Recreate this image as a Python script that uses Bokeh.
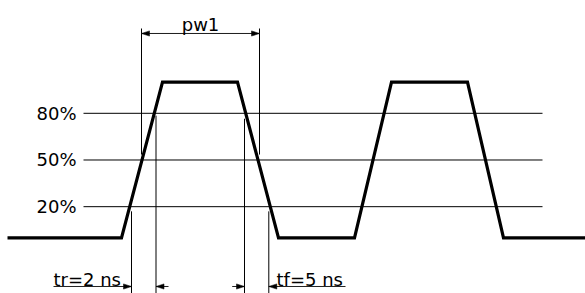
from bokeh.plotting import figure
from bokeh.models import Range1d
from bokeh.core.properties import value
from bokeh.embed import file_html
from bokeh.resources import INLINE

# ---- data (time in arbitrary schematic units, level in % of amplitude) ----
wave_t = [-1, 113, 154, 229, 270, 346, 383, 459, 495, 580]
wave_level = [0, 0, 100, 100, 0, 0, 100, 100, 0, 0]

threshold_levels = [80, 50, 20]
threshold_labels = ["80%", "50%", "20%"]
threshold_t = [75, 534]          # extent of threshold lines
label_t = 68                     # right edge of level labels

pw_t = [133, 251]                # pulse width markers (50% crossings)
pw_top, pw_bottom = 134.5, 53.5
pw_arrow_level = 131.3
pw_label = "pw1"
pw_label_level = 136.8

tr_t = [123, 147.5]              # rise time markers (20% / 80% crossings)
tr_top = [17, 78.5]
tf_t = [236, 260.3]              # fall time markers (80% / 20% crossings)
tf_top = [76.5, 17]
marker_bottom = -40
dim_level = -31.3
tr_label, tf_label = "tr=2 ns", "tf=5 ns"
tr_label_t, tf_label_t = 45, 268
dim_label_level = -27.0
# arrows: (start, tip)
tr_arrows = [(45, 123), (160, 147.5)]
tf_arrows = [(223.7, 236), (337, 260.3)]

W, H = 585, 293
x0, x1 = -8, 577
y0, y1 = -35.8, 152.5

p = figure(width=W, height=H, x_range=Range1d(x0, x1), y_range=Range1d(y0, y1),
           output_backend="svg", toolbar_location=None,
           x_axis_location=None, y_axis_location=None, min_border=0)
p.outline_line_color = None
p.xgrid.visible = False
p.ygrid.visible = False

font = value("DejaVu Sans")
FS = "18px"

# threshold lines
p.segment(x0=[threshold_t[0]] * 3, x1=[threshold_t[1]] * 3,
          y0=threshold_levels, y1=threshold_levels, line_color="black", line_width=1)
p.text(x=[label_t] * 3, y=threshold_levels, text=threshold_labels, text_font=font,
       text_font_size=FS, text_align="right", text_baseline="middle", text_color="black")

# marker verticals
vx = pw_t + tr_t + tf_t
vtop = [pw_top, pw_top] + tr_top + tf_top
vbot = [pw_bottom, pw_bottom] + [marker_bottom] * 4
p.segment(x0=vx, x1=vx, y0=vtop, y1=vbot, line_color="black", line_width=1)

# arrows
ppx_y = (y1 - y0) / H   # data units per pixel, y
ppx_x = (x1 - x0) / W
head_len, head_half = 8, 2.6
arrows = [(pw_t[0], pw_t[1], pw_arrow_level), (pw_t[1], pw_t[0], pw_arrow_level)]
arrows += [(s, e, dim_level) for s, e in tr_arrows + tf_arrows]
p.segment(x0=[a[0] for a in arrows], x1=[a[1] for a in arrows],
          y0=[a[2] for a in arrows], y1=[a[2] for a in arrows],
          line_color="#222222", line_width=1)
xs, ys = [], []
for s, e, lv in arrows:
    d = 1 if e > s else -1
    xs.append([e, e - d * head_len * ppx_x, e - d * head_len * ppx_x])
    ys.append([lv, lv + head_half * ppx_y, lv - head_half * ppx_y])
p.patches(xs=xs, ys=ys, fill_color="black", line_color="black", line_width=0.5)

# labels
p.text(x=[sum(pw_t) / 2], y=[pw_label_level], text=[pw_label], text_font=font,
       text_font_size=FS, text_align="center", text_baseline="alphabetic", text_color="black")
p.text(x=[tr_label_t, tf_label_t], y=[dim_label_level] * 2, text=[tr_label, tf_label],
       text_font=font, text_font_size=FS, text_align="left", text_baseline="alphabetic",
       text_color="black")

# waveform
p.line(x=wave_t, y=wave_level, line_color="black", line_width=3.2, line_join="miter")

open("out.html", "w").write(file_html(p, INLINE))
